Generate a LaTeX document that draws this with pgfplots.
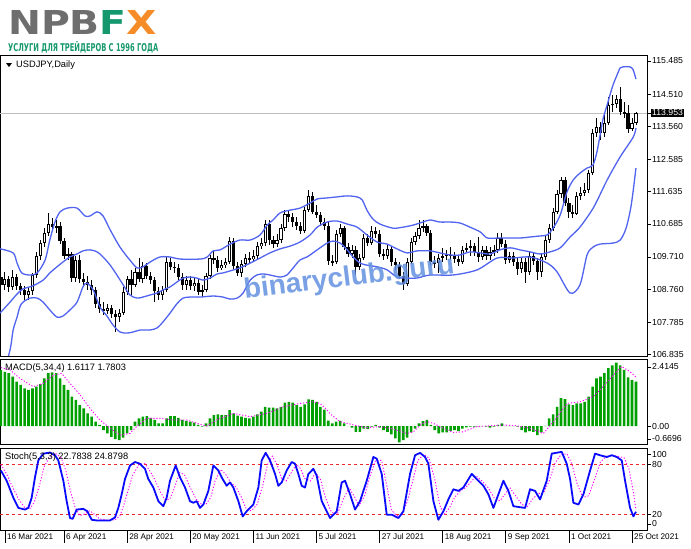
\documentclass[border=0pt]{standalone}
\usepackage{graphicx}
\usepackage{fontspec}
\setmainfont{Liberation Sans}
\newfontfamily\logofont{DejaVu Sans}
\usepackage{pgfplots}
\pgfplotsset{compat=1.18}
\usepackage{pgfplotstable}

\definecolor{band}{RGB}{80,100,240}
\definecolor{macdg}{RGB}{0,160,0}
\definecolor{stochb}{RGB}{10,10,255}
\definecolor{sigm}{RGB}{255,0,255}
\definecolor{lvl}{RGB}{235,40,40}
\definecolor{logogrey}{RGB}{110,110,110}
\definecolor{logogreen}{RGB}{22,152,110}
\definecolor{logoorange}{RGB}{245,140,40}
\definecolor{wm}{RGB}{100,145,225}

\pgfplotstableread{
i o h l c
1 108.89 109.27 108.74 109.06
3 108.83 109.33 108.74 109.12
7 108.59 108.83 108.44 108.71
8 108.71 109.24 108.59 109.18
9 109.18 109.86 109.09 109.74
10 109.74 110.21 109.62 110.12
11 110.12 110.56 110.00 110.42
12 110.42 111.01 110.33 110.68
14 110.59 110.80 110.42 110.62
17 109.74 109.98 109.62 109.80
19 109.09 109.74 108.97 109.62
27 108.12 108.33 108.03 108.21
30 107.94 108.18 107.80 108.06
31 108.06 108.83 108.00 108.68
32 108.68 109.15 108.59 109.06
34 108.89 109.39 108.83 109.27
36 109.06 109.56 108.94 109.45
41 108.59 108.86 108.44 108.74
42 108.74 109.71 108.68 109.56
47 108.89 109.15 108.74 109.03
49 108.86 109.12 108.71 108.94
51 108.68 108.89 108.53 108.74
52 108.74 109.24 108.68 109.15
53 109.15 109.77 109.06 109.68
56 109.39 109.62 109.33 109.47
57 109.47 109.68 109.39 109.56
58 109.56 110.30 109.50 110.18
61 109.24 109.62 109.12 109.50
62 109.50 109.80 109.42 109.68
64 109.65 109.92 109.56 109.74
65 109.74 110.15 109.65 110.03
66 110.03 110.27 109.95 110.12
67 110.12 110.80 110.03 110.68
70 110.09 110.39 110.00 110.21
71 110.21 110.68 110.12 110.56
72 110.56 111.09 110.48 110.98
77 110.48 111.18 110.42 111.09
78 111.09 111.68 111.04 111.51
85 109.56 110.51 109.50 110.39
86 110.39 110.68 110.30 110.56
89 109.80 110.06 109.68 109.92
91 109.42 109.80 109.33 109.68
92 109.68 110.39 109.62 110.27
94 110.12 110.62 110.06 110.48
98 109.74 110.06 109.65 109.95
103 108.92 109.68 108.86 109.56
104 109.56 110.27 109.50 110.15
105 110.15 110.45 110.06 110.33
106 110.33 110.80 110.24 110.56
107 110.56 110.80 110.45 110.62
111 109.53 109.80 109.24 109.68
112 109.68 109.98 109.56 109.74
113 109.74 109.92 109.62 109.77
117 109.56 110.03 109.50 109.92
118 109.92 110.12 109.83 109.98
119 109.98 110.21 109.74 110.03
122 109.71 110.03 109.62 109.92
124 109.74 110.00 109.62 109.86
125 109.86 110.06 109.74 109.92
126 109.92 110.42 109.83 110.27
129 109.62 109.86 109.53 109.74
132 109.36 109.71 109.24 109.56
134 109.27 109.86 109.18 109.74
137 109.27 109.83 109.12 109.71
138 109.71 110.33 109.62 110.21
139 110.21 110.68 110.12 110.56
140 110.56 111.15 110.48 111.04
141 111.04 111.68 110.98 111.57
142 111.57 112.07 111.45 111.98
146 110.98 111.62 110.95 111.51
147 111.51 111.77 111.39 111.60
148 111.60 111.89 111.51 111.68
149 111.68 112.27 111.60 112.18
150 112.18 113.48 112.13 113.36
151 113.36 113.80 113.24 113.54
153 113.36 113.89 113.24 113.66
154 113.66 114.42 113.60 114.19
155 114.19 114.48 113.98 114.22
156 114.22 114.48 114.10 114.36
160 113.48 113.80 113.42 113.66
161 113.66 113.98 113.60 113.953
}\bull

\pgfplotstableread{
i o h l c
0 109.12 109.27 108.68 108.89
2 109.06 109.15 108.68 108.83
4 109.12 109.21 108.74 108.86
5 108.86 108.94 108.59 108.74
6 108.74 108.86 108.44 108.59
13 110.68 110.86 110.48 110.59
15 110.62 110.74 110.09 110.18
16 110.18 110.27 109.65 109.74
18 109.80 109.86 108.97 109.09
20 109.62 109.77 108.94 109.06
21 109.06 109.24 108.86 108.97
22 108.97 109.15 108.74 108.89
23 108.89 109.03 108.59 108.74
24 108.74 108.83 108.21 108.33
25 108.33 108.53 108.06 108.18
26 108.18 108.38 108.00 108.12
28 108.21 108.30 107.91 108.03
29 108.03 108.15 107.50 107.94
33 109.06 109.33 108.59 108.89
35 109.27 109.68 108.97 109.06
37 109.45 109.53 109.06 109.15
38 109.15 109.27 108.92 109.03
39 109.03 109.12 108.38 108.71
40 108.71 108.83 108.44 108.59
43 109.56 109.68 109.33 109.42
44 109.42 109.56 109.24 109.39
45 109.39 109.50 109.03 109.12
46 109.12 109.24 108.74 108.89
48 109.03 109.15 108.74 108.86
50 108.94 109.06 108.59 108.68
54 109.68 109.92 109.50 109.62
55 109.62 109.74 109.27 109.39
59 110.18 110.27 109.36 109.45
60 109.45 109.56 109.15 109.24
63 109.68 109.86 109.53 109.65
68 110.68 110.80 110.06 110.21
69 110.21 110.33 109.98 110.09
73 110.98 111.09 110.74 110.89
74 110.89 111.01 110.59 110.74
75 110.74 110.89 110.51 110.62
76 110.62 110.74 110.39 110.48
79 111.51 111.62 110.98 111.04
80 111.04 111.24 110.86 110.95
81 110.95 111.04 110.62 110.74
82 110.74 110.86 110.51 110.62
83 110.62 110.74 109.47 109.59
84 109.59 109.77 109.45 109.56
87 110.56 110.62 109.92 110.00
88 110.00 110.12 109.71 109.80
90 109.92 110.03 109.18 109.42
93 110.27 110.39 110.03 110.12
95 110.48 110.59 110.27 110.39
96 110.39 110.51 109.71 109.80
97 109.80 109.95 109.62 109.74
99 109.95 110.03 109.45 109.56
100 109.56 109.68 109.33 109.47
101 109.47 109.56 109.06 109.15
102 109.15 109.27 108.74 108.92
108 110.62 110.68 110.33 110.42
109 110.42 110.51 109.47 109.56
110 109.56 109.74 109.39 109.53
114 109.77 110.00 109.62 109.74
115 109.74 109.86 109.53 109.65
116 109.65 109.77 109.45 109.56
120 110.03 110.12 109.74 109.86
121 109.86 110.30 109.56 109.71
123 109.92 110.03 109.62 109.74
127 110.27 110.42 110.00 110.09
128 110.09 110.21 109.50 109.62
130 109.74 109.86 109.45 109.56
131 109.56 109.68 109.18 109.36
133 109.56 109.68 108.94 109.27
135 109.74 109.83 109.47 109.59
136 109.59 109.68 109.03 109.27
143 111.98 112.07 111.21 111.30
144 111.30 111.45 110.86 111.04
145 111.04 111.24 110.86 110.98
152 113.54 113.69 113.16 113.36
157 114.36 114.72 113.89 113.98
158 113.98 114.28 113.80 113.95
159 113.95 114.19 113.36 113.48
}\bear

\pgfplotsset{
  mt4/.style={
    scale only axis, width=647pt, xmin=-0.23, xmax=163.8,
    axis line style={black, line width=0.8pt},
    tick style={black, line width=0.6pt},
    tick align=outside, major tick length=4pt,
    ytick pos=right, yticklabel pos=right, xtick=\empty,
    yticklabel style={font=\fontsize{8.7}{10}\selectfont, anchor=west, inner sep=1pt},
  },
  wick/.style={draw=none, mark=none, forget plot,
    error bars/y dir=both, error bars/y explicit, error bars/error mark=none,
    error bars/error bar style={draw=black, solid, line width=0.9pt}},
  body/.style={draw=none, mark=none, forget plot,
    error bars/y dir=both, error bars/y explicit, error bars/error mark=none,
    error bars/error bar style={draw=#1, solid}},
}

\begin{document}
\begin{tikzpicture}
\path[use as bounding box, fill=white] (0pt,0pt) rectangle (691pt,-549pt);

% ---------------- main price panel ----------------
\begin{axis}[mt4, name=main, anchor=north west, at={(0pt,-55pt)}, height=301pt,
  ymin=106.794, ymax=115.66,
  ytick={115.485,114.510,113.560,112.585,111.635,110.685,109.710,108.760,107.785,106.835},
  yticklabels={115.485,114.510,113.560,112.585,111.635,110.685,109.710,108.760,107.785,106.835},
  extra y ticks={113.953}, extra y tick labels={113.953},
  extra y tick style={grid=major, major grid style={color=black!25, line width=0.7pt},
     yticklabel style={fill=black, text=white}},
]
% wicks
\addplot[wick] table[x=i, y expr={(\thisrow{h}+\thisrow{l})/2}, y error expr={(\thisrow{h}-\thisrow{l})/2}] {\bull};
\addplot[wick] table[x=i, y expr={(\thisrow{h}+\thisrow{l})/2}, y error expr={(\thisrow{h}-\thisrow{l})/2}] {\bear};
% bodies
\addplot[body=black, error bars/error bar style={line width=3.2pt}] table[x=i, y expr={(\thisrow{o}+\thisrow{c})/2}, y error expr={max(abs(\thisrow{c}-\thisrow{o})/2,0.016)}] {\bear};
\addplot[body=black, error bars/error bar style={line width=3.2pt}] table[x=i, y expr={(\thisrow{o}+\thisrow{c})/2}, y error expr={max(abs(\thisrow{c}-\thisrow{o})/2,0.016)}] {\bull};
\addplot[body=white, error bars/error bar style={line width=1.2pt}] table[x=i, y expr={(\thisrow{o}+\thisrow{c})/2}, y error expr={max(abs(\thisrow{c}-\thisrow{o})/2-0.03,0)}] {\bull};
% Bollinger bands
\addplot[band, line width=1.3pt, smooth] coordinates {
(-0.2,109.95) (3.1,109.83) (4.1,109.53) (5.3,109.24) (7.4,109.18) (9.2,109.24) (11.2,109.62) (12.4,110.21) (13.7,110.74) (15.0,111.04) (16.8,111.15) (19.3,111.15) (21.3,110.92) (22.6,110.92) (24.4,111.04) (25.9,110.92) (27.7,110.51) (30.2,110.00) (32.7,109.62) (34.5,109.39) (36.0,109.42) (37.8,109.56) (40.3,109.71) (42.9,109.71) (45.4,109.65) (50.5,109.65) (52.3,109.71) (53.8,109.89) (55.6,109.92) (58.1,110.09) (60.6,110.21) (63.2,110.21) (65.7,110.36) (67.5,110.65) (69.0,110.80) (70.8,111.01) (73.3,111.09) (75.8,111.15) (78.4,111.30) (80.2,111.42) (82.7,111.45) (85.2,111.48) (87.8,111.51) (90.3,111.48) (91.6,111.39) (92.8,111.09) (94.3,110.83) (96.1,110.68) (99.4,110.56) (102.0,110.59) (104.5,110.65) (107.0,110.74) (108.8,110.80) (111.3,110.74) (113.9,110.74) (116.4,110.71) (118.9,110.59) (121.5,110.45) (123.3,110.27) (126.5,110.27) (131.6,110.27) (134.2,110.30) (136.7,110.33) (138.5,110.36) (140.0,110.56) (141.8,110.95) (143.5,111.62) (145.1,111.98) (146.8,112.18) (148.6,112.33) (150.1,112.42) (151.1,112.80) (151.9,113.30) (152.7,113.80) (153.7,114.19) (154.4,114.48) (155.2,114.78) (156.2,115.07) (157.0,115.28) (157.7,115.31) (159.5,115.31) (160.3,115.22) (161,114.95)};
\addplot[band, line width=1.3pt, smooth] coordinates {
(-0.2,108.06) (2.3,108.38) (4.1,108.62) (5.6,108.77) (8.1,108.86) (10.7,109.03) (12.4,109.24) (14.2,109.42) (15.7,109.56) (17.5,109.71) (19.3,109.80) (20.8,109.89) (22.6,109.92) (24.4,109.86) (25.9,109.71) (27.7,109.47) (29.4,109.18) (31.0,108.89) (32.7,108.59) (34.5,108.50) (36.0,108.53) (37.8,108.59) (39.6,108.65) (41.1,108.74) (42.9,108.83) (44.6,108.97) (46.2,109.09) (47.9,109.12) (49.7,109.09) (51.2,109.03) (53.0,109.09) (54.8,109.21) (56.3,109.24) (58.1,109.30) (60.6,109.39) (63.2,109.53) (65.7,109.68) (68.2,109.83) (70.8,109.95) (73.3,110.03) (75.8,110.15) (78.4,110.36) (80.2,110.59) (82.7,110.74) (85.2,110.77) (87.8,110.68) (90.3,110.59) (92.8,110.36) (95.4,110.15) (97.9,110.09) (100.4,109.95) (103.0,109.83) (105.5,109.89) (108.8,109.89) (111.3,109.83) (113.9,109.77) (116.4,109.77) (118.9,109.86) (121.5,109.83) (124.0,109.80) (126.5,109.92) (129.1,109.98) (131.6,109.92) (134.2,109.86) (136.7,109.80) (139.2,109.86) (141.8,109.98) (144.3,110.30) (146.8,110.59) (150.3,111.18) (153.7,111.98) (157.0,112.66) (160.3,113.24) (161,113.51)};
\addplot[band, line width=1.3pt, smooth] coordinates {
(-0.2,105.90) (2.3,106.97) (3.1,107.56) (4.1,107.94) (4.8,108.24) (5.6,108.38) (7.4,108.50) (9.2,108.50) (10.7,108.38) (12.4,108.15) (14.2,107.94) (15.7,107.97) (17.5,108.15) (19.3,108.38) (20.8,108.83) (21.8,108.94) (23.4,108.74) (25.1,108.24) (26.9,107.97) (28.4,107.71) (30.2,107.50) (32.0,107.47) (33.5,107.50) (35.3,107.56) (37.8,107.56) (39.6,107.62) (41.1,107.80) (42.9,108.06) (44.6,108.33) (46.2,108.50) (47.9,108.53) (50.5,108.53) (53.8,108.56) (56.3,108.53) (58.1,108.47) (59.9,108.50) (61.4,108.65) (63.2,109.03) (64.9,109.18) (66.5,109.21) (68.2,109.18) (70.8,109.12) (72.5,109.18) (74.1,109.39) (75.8,109.62) (77.6,109.71) (79.1,109.83) (80.9,109.98) (82.7,110.12) (84.2,110.18) (86.0,110.12) (87.8,109.92) (89.3,109.71) (91.1,109.53) (92.8,109.47) (95.4,109.42) (97.9,109.33) (100.4,109.12) (103.0,109.09) (105.5,109.09) (108.8,109.18) (114.6,109.18) (120.7,109.33) (125.8,109.68) (129.8,109.68) (134.2,109.71) (138.5,109.53) (141.0,109.27) (144.3,108.65) (146.8,108.89) (148.6,109.77) (150.1,110.00) (151.9,110.09) (155.2,110.12) (157.0,110.21) (158.5,110.56) (159.8,111.24) (161,112.33)};
\end{axis}

% ---------------- MACD panel ----------------
\begin{axis}[mt4, name=macd, anchor=north west, at={(0pt,-359.5pt)}, height=85pt,
  ymin=-0.6696, ymax=2.4145,
  ytick={2.145,0,-0.47}, yticklabels={2.4145,0.00,-0.6696},
]
\addplot[ybar, bar width=2.6pt, fill=macdg, draw=none] coordinates {
(0,2.04) (1,1.97) (2,1.92) (3,1.79) (4,1.61) (5,1.49) (6,1.37) (7,1.31) (8,1.37) (9,1.43) (10,1.52) (11,1.73) (12,1.92) (13,1.95) (14,1.92) (15,1.73) (16,1.49) (17,1.31) (18,1.07) (19,0.95) (20,0.76) (21,0.64) (22,0.46) (23,0.34) (24,0.16) (25,0.04) (26,-0.15) (27,-0.27) (28,-0.39) (29,-0.47) (30,-0.51) (31,-0.42) (32,-0.27) (33,-0.15) (34,0.16) (35,0.28) (36,0.34) (37,0.36) (38,0.30) (39,0.22) (40,0.10) (41,0.10) (42,0.28) (43,0.36) (44,0.36) (45,0.30) (46,0.22) (47,0.19) (48,0.16) (49,0.12) (50,0.04) (51,-0.02) (52,0.10) (53,0.28) (54,0.40) (55,0.42) (56,0.40) (57,0.40) (58,0.58) (59,0.46) (60,0.38) (61,0.34) (62,0.30) (63,0.28) (64,0.34) (65,0.42) (66,0.52) (67,0.70) (68,0.67) (69,0.67) (70,0.64) (71,0.70) (72,0.85) (73,0.88) (74,0.85) (75,0.76) (76,0.70) (77,0.79) (78,0.97) (79,0.95) (80,0.88) (81,0.70) (82,0.60) (83,0.20) (84,0.10) (85,0.16) (86,0.19) (87,0.10) (88,0.00) (89,-0.06) (90,-0.21) (91,-0.21) (92,-0.09) (93,-0.11) (94,-0.02) (95,0.04) (96,-0.06) (97,-0.15) (98,-0.21) (99,-0.30) (100,-0.45) (101,-0.59) (102,-0.51) (103,-0.42) (104,-0.23) (105,-0.09) (106,0.10) (107,0.18) (108,0.22) (109,0.04) (110,-0.15) (111,-0.27) (112,-0.23) (113,-0.23) (114,-0.18) (115,-0.15) (116,-0.18) (117,-0.09) (118,-0.05) (119,-0.02) (120,-0.02) (121,-0.01) (122,0.00) (123,-0.02) (124,-0.06) (125,-0.02) (126,0.04) (127,0.10) (128,0.01) (129,0.00) (130,0.00) (131,-0.02) (132,-0.15) (133,-0.23) (134,-0.18) (135,-0.21) (136,-0.33) (137,-0.23) (138,0.01) (139,0.28) (140,0.42) (141,0.70) (142,1.01) (143,0.98) (144,0.79) (145,0.76) (146,0.82) (147,0.82) (148,0.88) (149,1.07) (150,1.43) (151,1.73) (152,1.79) (153,1.92) (154,2.10) (155,2.20) (156,2.30) (157,2.20) (158,2.04) (159,1.77) (160,1.67) (161,1.6117)};
\addplot[sigm, line width=0.9pt, dash pattern=on 1.2pt off 1.8pt] coordinates {
(0,2.12) (2.3,2.04) (4.8,1.73) (8.2,1.43) (10.8,1.55) (13.3,1.85) (15.4,1.91) (17.5,1.55) (20.1,1.13) (22.6,0.64) (25.1,0.22) (27.7,-0.08) (30.2,-0.33) (32.7,-0.27) (34.4,-0.02) (37.0,0.28) (40.3,0.28) (43.7,0.22) (47.1,0.22) (50.5,0.06) (52.2,0.00) (54.7,0.22) (58.9,0.46) (63.2,0.34) (67.4,0.46) (71.6,0.70) (75.8,0.82) (79.2,0.88) (80.9,0.82) (82.6,0.60) (83.4,0.45) (86.0,0.16) (89.4,0.04) (92.7,-0.06) (96.1,-0.02) (99.5,-0.11) (102.9,-0.27) (104.6,-0.21) (106.3,0.04) (108.0,0.16) (109.6,0.10) (112.2,-0.08) (114.7,-0.23) (117.2,-0.21) (120.6,-0.02) (124.0,0.01) (127.4,0.04) (130.8,0.01) (134.2,-0.08) (137.5,-0.27) (140.1,0.16) (143.5,0.82) (146.8,0.88) (150.2,1.07) (152.7,1.43) (155.3,1.85) (157.4,2.16) (159.5,1.97) (161,1.7803)};
\end{axis}

% ---------------- Stochastic panel ----------------
\begin{axis}[mt4, name=stoch, anchor=north west, at={(0pt,-448pt)}, height=82.5pt,
  ymin=0, ymax=100, clip=false,
  ytick={7.9,20,80,92.7}, yticklabels={0,20,80,100},
  xtick={1,16,32,48,64,80,96,112,128,144,160},
  xticklabels={16 Mar 2021,6 Apr 2021,28 Apr 2021,20 May 2021,11 Jun 2021,5 Jul 2021,27 Jul 2021,18 Aug 2021,9 Sep 2021,1 Oct 2021,25 Oct 2021},
  xtick pos=bottom, xticklabel pos=bottom, xtick style={draw=none},
  xticklabel style={font=\fontsize{8.2}{10}\selectfont, anchor=north west, inner sep=0pt, xshift=2pt, yshift=1pt},
]
\addplot[lvl, line width=0.9pt, dash pattern=on 3pt off 3pt] coordinates {(-0.23,80) (163.8,80)};
\addplot[lvl, line width=0.9pt, dash pattern=on 3pt off 3pt] coordinates {(-0.23,20) (163.8,20)};
\addplot[sigm, line width=0.9pt, dash pattern=on 1.2pt off 1.8pt] coordinates {
(0,80) (1.5,68) (3,52) (4.5,38) (6,28) (7.5,27) (8.5,35) (9.8,55) (11,78) (12.5,90) (14,93) (15.3,88) (16.5,72) (17.6,48) (18.8,28) (20,18) (21.2,20) (22.5,24) (23.6,20) (25,14) (27,12.5) (29,13) (30.3,19) (31.3,33) (32.3,50) (33.5,68) (35,80) (36.5,81) (37.8,72) (39,62) (40.3,48) (41.6,37) (42.8,38) (44,52) (45.3,70) (46.5,68) (48,52) (49.5,38) (50.8,32) (52,32) (53.2,40) (54.3,60) (55.7,74) (57,68) (58.3,58) (59.7,52) (61,40) (62.3,25) (63.5,24) (65,32) (66.4,55) (67.6,80) (68.8,90) (70,80) (71.2,63) (72.3,60) (73.6,70) (74.9,80) (76,75) (77,63) (78.5,60) (79.8,70) (81,62) (82.3,40) (83.8,22) (85.3,20) (86.8,38) (88.3,52) (89.5,42) (90.8,30) (92.2,42) (93.5,65) (95,85) (96.5,85) (97.8,55) (99,25) (100.3,18) (101.6,18) (103,35) (104.4,60) (105.7,85) (107.2,92) (108.5,88) (110,62) (111.3,30) (112.5,20) (113.8,28) (115,40) (116.5,48) (117.8,52) (119,58) (120.5,66) (122,60) (123.5,52) (125,40) (126.5,36) (127.8,44) (129,52) (130.5,42) (132,32) (133.3,28) (134.8,38) (136.2,45) (137.5,45) (139,60) (140.5,82) (142,92) (143.5,93) (144.8,80) (146,58) (147.5,40) (149,42) (150.5,62) (152,83) (153.5,90) (155,91) (156.5,90) (158,88) (159.2,75) (160.3,48) (161,24.88)};
\addplot[stochb, line width=1.8pt, line join=round] coordinates {
(0,72.7) (1.46,60.3) (3.15,39.8) (4.42,27.4) (6.11,25.4) (6.95,27.4) (7.8,39.8) (8.64,64.4) (9.49,85.0) (10.76,93.2) (12.45,94.5) (13.72,91.2) (14.56,85.0) (15.83,60.3) (16.67,35.6) (17.52,15.1) (18.2,14.2) (19.21,25.4) (20.9,26.2) (21.91,23.3) (23.01,13.0) (24.28,12.2) (25.97,12.2) (27.66,12.2) (28.93,15.9) (29.77,27.4) (30.62,43.9) (31.46,62.4) (32.73,78.8) (34.0,83.0) (35.27,80.9) (36.53,74.7) (37.38,62.4) (38.65,52.1) (39.92,35.6) (41.18,29.5) (42.03,39.8) (42.87,60.3) (44.31,78.8) (45.41,64.4) (46.68,52.1) (47.94,35.6) (48.79,33.6) (49.63,35.6) (50.48,27.4) (51.33,31.5) (52.59,48.0) (53.86,78.8) (55.13,72.7) (55.97,64.4) (57.24,54.2) (58.08,58.3) (58.93,52.1) (60.2,35.6) (61.3,17.1) (62.31,23.3) (64.0,31.5) (65.27,52.1) (66.11,85.0) (67.13,94.1) (68.23,85.0) (69.5,68.6) (70.34,54.2) (71.19,58.3) (72.45,72.7) (73.72,83.0) (74.57,80.9) (75.41,68.6) (76.26,54.2) (77.1,52.1) (77.95,68.6) (79.22,74.7) (80.06,66.5) (81.33,35.6) (82.18,27.4) (83.45,15.1) (85.14,23.3) (86.4,58.3) (87.25,60.3) (88.52,43.9) (89.78,25.4) (91.05,35.6) (92.74,60.3) (94.43,89.1) (95.28,87.1) (96.55,68.6) (97.81,19.2) (99.08,19.2) (100.77,15.1) (102.04,23.3) (103.73,68.6) (105.0,91.2) (106.27,94.1) (107.53,89.1) (108.38,80.9) (109.65,35.6) (110.91,13.0) (112.18,23.3) (113.45,37.7) (114.72,50.0) (115.98,48.0) (117.25,52.1) (119.36,68.6) (120.63,62.4) (122.32,54.2) (123.59,43.9) (124.86,27.4) (126.13,43.9) (127.39,60.3) (128.66,48.0) (129.93,29.5) (131.62,28.2) (132.89,27.4) (134.15,50.0) (135.42,48.0) (136.69,37.7) (138.38,60.3) (139.65,93.2) (142.18,95.3) (143.45,80.9) (144.3,62.4) (145.14,33.6) (146.41,31.5) (147.68,43.9) (149.37,72.7) (150.64,93.2) (151.9,91.2) (153.59,89.1) (154.86,91.2) (156.13,89.1) (157.4,85.0) (158.24,60.3) (159.51,27.4) (160.35,17.1) (161,22.78)};
\pgfplotsinvokeforeach{1,16,32,48,64,80,96,112,128,144,160}{
  \draw[black, line width=0.6pt] (axis cs:#1,0) -- ++(0pt,-12pt);
}
\end{axis}

% ---------------- texts ----------------
\fill[black] (6pt,-63pt) -- (12pt,-63pt) -- (9pt,-67pt) -- cycle;
\node[anchor=west, inner sep=0, font=\fontsize{9.3}{10}\selectfont] at (16pt,-65pt) {USDJPY,Daily};
\node[anchor=west, inner sep=0, font=\fontsize{9.3}{10}\selectfont] at (5pt,-368pt) {MACD(5,34,4) 1.6117 1.7803};
\node[anchor=west, inner sep=0, font=\fontsize{9.3}{10}\selectfont] at (5pt,-457pt) {Stoch(5,3,3) 22.7838 24.8798};

\node[anchor=base west, rotate=7, text=wm, opacity=0.85, inner sep=0,
      font=\fontsize{28}{30}\selectfont\bfseries] at (245pt,-299pt) {binaryclub.guru};

% logo
\node[anchor=north west, inner sep=0] at (8pt,-10pt) {\resizebox{149pt}{24pt}{\logofont\bfseries\textcolor{logogrey}{NPB}\textcolor{logogreen}{F}\textcolor{logoorange}{X}}};
\node[anchor=north west, inner sep=0] at (8pt,-41pt) {\resizebox{150pt}{!}{\scalebox{1}[1.6]{\logofont\bfseries\color{logogreen}УСЛУГИ ДЛЯ ТРЕЙДЕРОВ С 1996 ГОДА}}};
\end{tikzpicture}
\end{document}
